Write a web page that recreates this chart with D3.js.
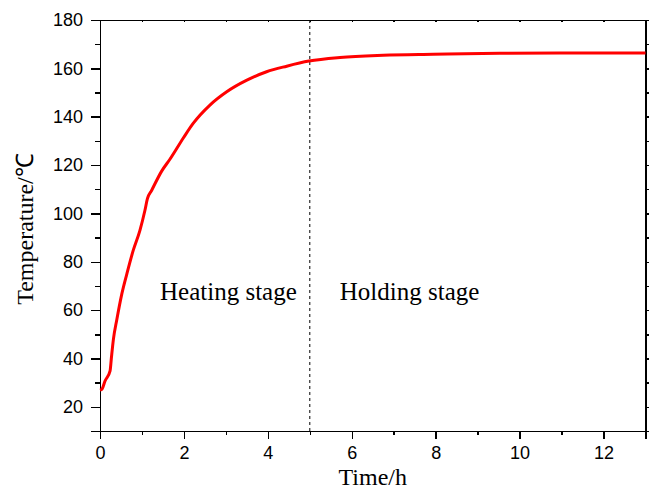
<!DOCTYPE html>
<meta charset="utf-8">
<style>
body { margin: 0; background: #fff; }
.axis path, .axis line { stroke: #000; stroke-width: 1.5px; shape-rendering: crispEdges; }
.axis text { font: 18px "Liberation Sans", Arial, sans-serif; fill: #000; }
.title { font: 24px "Liberation Serif", "Times New Roman", serif; fill: #000; }
.stage { font: 25px "Liberation Serif", "Times New Roman", serif; fill: #000; }
</style>
<svg width="649" height="490"></svg>
<script src="https://d3js.org/d3.v7.min.js"></script>
<script>

// temperature curve
var time = [0, 0.05, 0.12, 0.24, 0.27, 0.32, 0.40, 0.52, 0.64, 0.79, 0.95, 1.07, 1.13, 1.23,
            1.47, 1.67, 1.99, 2.22, 2.62, 3.02, 3.5, 3.97, 4.45, 4.98, 5.72, 6.75,
            7.94, 9.53, 11, 13];
var temp = [26.9, 27.4, 30.7, 34.9, 40, 48, 56, 66.7, 75, 84.6, 92.9, 101.2, 106.1, 109.5,
            117.5, 122.5, 131.3, 137.2, 144.8, 150.3, 155.1, 158.6, 160.9, 163, 164.5, 165.4,
            165.8, 166.2, 166.3, 166.3];

var xMajor = [0, 2, 4, 6, 8, 10, 12],
    xMinor = [1, 3, 5, 7, 9, 11, 13],
    yMajor = [20, 40, 60, 80, 100, 120, 140, 160, 180],
    yMinor = [10, 30, 50, 70, 90, 110, 130, 150, 170];

var split = 5;

var svg = d3.select("svg"),
    plot = {left: 100, right: 645.5, top: 20, bottom: 431};

var x = d3.scaleLinear().domain([0, 13]).range([plot.left, plot.right]);
var y = d3.scaleLinear().domain([10, 180]).range([plot.bottom, plot.top]);

// bottom axis
svg.append("g").attr("class", "axis")
    .attr("transform", "translate(0," + plot.bottom + ")")
    .call(d3.axisBottom(x).tickValues(xMajor).tickSize(8).tickPadding(7).tickFormat(d3.format("d")));
svg.append("g").attr("class", "axis")
    .attr("transform", "translate(0," + plot.bottom + ")")
    .call(d3.axisBottom(x).tickValues(xMinor).tickSize(4).tickFormat(""))
    .select(".domain").remove();

// left axis
svg.append("g").attr("class", "axis")
    .attr("transform", "translate(" + plot.left + ",0)")
    .call(d3.axisLeft(y).tickValues(yMajor).tickSize(9).tickPadding(8));
svg.append("g").attr("class", "axis")
    .attr("transform", "translate(" + plot.left + ",0)")
    .call(d3.axisLeft(y).tickValues(yMinor).tickSize(5).tickFormat(""))
    .select(".domain").remove();

// top and right frame
svg.append("g").attr("class", "axis")
    .attr("transform", "translate(0," + plot.top + ")")
    .call(d3.axisTop(x).tickValues(xMajor.concat(xMinor)).tickSize(-2).tickFormat(""));
svg.append("g").attr("class", "axis")
    .attr("transform", "translate(" + plot.right + ",0)")
    .call(d3.axisRight(y).tickValues(yMajor.concat(yMinor)).tickSize(4).tickFormat(""));

// stage divider
svg.append("line")
    .attr("x1", x(split)).attr("x2", x(split))
    .attr("y1", plot.top).attr("y2", plot.bottom)
    .attr("stroke", "#000")
    .attr("stroke-width", 1)
    .attr("stroke-dasharray", "3,3");

// curve
var line = d3.line()
    .x(function(d, i) { return x(time[i]); })
    .y(function(d) { return y(d); })
    .curve(d3.curveMonotoneX);

svg.append("path")
    .attr("d", line(temp))
    .attr("fill", "none")
    .attr("stroke", "#ff0000")
    .attr("stroke-width", 3);

// labels
svg.append("text").attr("class", "stage")
    .attr("x", x(split) - 13).attr("y", 300)
    .attr("text-anchor", "end")
    .text("Heating stage");
svg.append("text").attr("class", "stage")
    .attr("x", x(split) + 30).attr("y", 300)
    .text("Holding stage");

svg.append("text").attr("class", "title")
    .attr("x", (plot.left + plot.right) / 2).attr("y", 485)
    .attr("text-anchor", "middle")
    .text("Time/h");
svg.append("text").attr("class", "title")
    .attr("transform", "translate(33,229) rotate(-90)")
    .attr("text-anchor", "middle")
    .text("Temperature/℃");

</script>
